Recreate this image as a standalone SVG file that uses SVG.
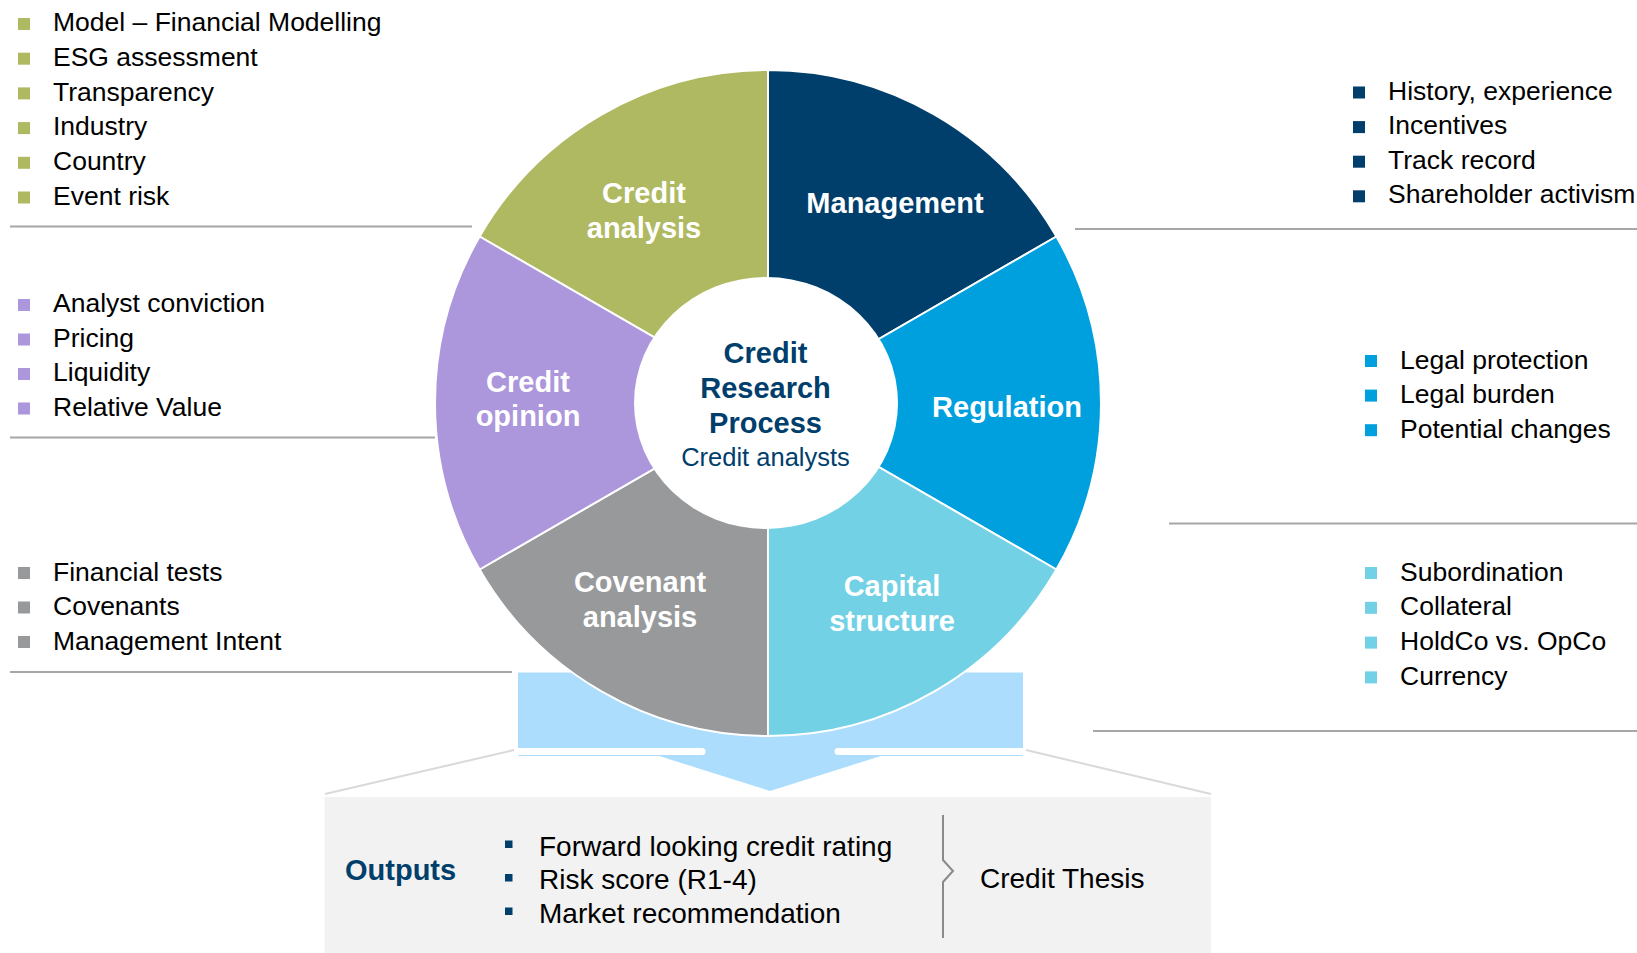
<svg xmlns="http://www.w3.org/2000/svg" width="1637" height="953" viewBox="0 0 1637 953">
<style>
text{font-family:"Liberation Sans",Arial,sans-serif}
.li{font-size:26.5px;fill:#000}
.seg{font-size:29px;font-weight:bold;fill:#fff;text-anchor:middle}
.ctr{font-size:29px;font-weight:bold;fill:#003E6B;text-anchor:middle}
.ctr2{font-size:25.5px;fill:#003E6B;text-anchor:middle}
.sep{stroke:#A6A6A6;stroke-width:2;fill:none}
.slant{stroke:#D9D9D9;stroke-width:2;fill:none}
.wedge{stroke:#fff;stroke-width:2}
.out{font-size:28px;fill:#000}
.olive{fill:#AFB962}.navy{fill:#003E6B}.blue{fill:#00A0DE}.cyan{fill:#73D1E6}.grey{fill:#98999B}.purple{fill:#AC96DC}
</style>
<rect width="1637" height="953" fill="#fff"/>

<!-- output arrow behind the wheel -->
<g id="output-arrow">
  <rect x="518" y="672.5" width="505" height="83.5" fill="#ADDDFC"/>
  <path d="M656,755 L884,755 L770,791 Z" fill="#ADDDFC"/>
  <path d="M514,751.5 H702 M838,751.5 H1027" stroke="#fff" stroke-width="7" stroke-linecap="round" fill="none"/>
</g>

<g id="connectors">
  <path class="sep" d="M10,226.5 H472"/>
  <path class="sep" d="M1075,229 H1637"/>
  <path class="sep" d="M10,437.5 H435"/>
  <path class="sep" d="M1169,523.5 H1637"/>
  <path class="sep" d="M10,672 H512"/>
  <path class="sep" d="M1093,731 H1637"/>
  <path class="slant" d="M514,750 L325,794"/>
  <path class="slant" d="M1026,750 L1211,794"/>
</g>

<!-- wheel -->
<g id="credit-analysis">
  <path class="wedge olive" d="M768,403 L479.62,236.5 A333,333 0 0 1 768,70 Z"/>
  <text class="seg" x="644" y="202.5">Credit</text>
  <text class="seg" x="644" y="237.5">analysis</text>
</g>
<g id="management">
  <path class="wedge navy" d="M768,403 L768,70 A333,333 0 0 1 1056.38,236.5 Z"/>
  <text class="seg" x="895" y="213">Management</text>
</g>
<g id="regulation">
  <path class="wedge blue" d="M768,403 L1056.38,236.5 A333,333 0 0 1 1056.38,569.5 Z"/>
  <text class="seg" x="1007" y="416.5">Regulation</text>
</g>
<g id="capital-structure">
  <path class="wedge cyan" d="M768,403 L1056.38,569.5 A333,333 0 0 1 768,736 Z"/>
  <text class="seg" x="892" y="596">Capital</text>
  <text class="seg" x="892" y="630.5">structure</text>
</g>
<g id="covenant-analysis">
  <path class="wedge grey" d="M768,403 L768,736 A333,333 0 0 1 479.62,569.5 Z"/>
  <text class="seg" x="640" y="591.5">Covenant</text>
  <text class="seg" x="640" y="626.5">analysis</text>
</g>
<g id="credit-opinion">
  <path class="wedge purple" d="M768,403 L479.62,569.5 A333,333 0 0 1 479.62,236.5 Z"/>
  <text class="seg" x="528" y="391.5">Credit</text>
  <text class="seg" x="528" y="426">opinion</text>
</g>
<g id="center">
  <ellipse cx="766" cy="403" rx="132" ry="126" fill="#fff"/>
  <text class="ctr" x="765.5" y="362.5">Credit</text>
  <text class="ctr" x="765.5" y="398">Research</text>
  <text class="ctr" x="765.5" y="433">Process</text>
  <text class="ctr2" x="765.5" y="466">Credit analysts</text>
</g>

<!-- side lists -->
<g id="list-credit-analysis">
  <rect class="olive" x="18" y="18" width="12" height="12"/>
  <rect class="olive" x="18" y="52.7" width="12" height="12"/>
  <rect class="olive" x="18" y="87.4" width="12" height="12"/>
  <rect class="olive" x="18" y="122.1" width="12" height="12"/>
  <rect class="olive" x="18" y="156.8" width="12" height="12"/>
  <rect class="olive" x="18" y="191.5" width="12" height="12"/>
  <text class="li" x="53" y="31">Model – Financial Modelling</text>
  <text class="li" x="53" y="65.7">ESG assessment</text>
  <text class="li" x="53" y="100.6">Transparency</text>
  <text class="li" x="53" y="135.3">Industry</text>
  <text class="li" x="53" y="170">Country</text>
  <text class="li" x="53" y="204.7">Event risk</text>
</g>
<g id="list-management">
  <rect class="navy" x="1353" y="86.5" width="12" height="12"/>
  <rect class="navy" x="1353" y="121.1" width="12" height="12"/>
  <rect class="navy" x="1353" y="155.7" width="12" height="12"/>
  <rect class="navy" x="1353" y="190.3" width="12" height="12"/>
  <text class="li" x="1388" y="99.5">History, experience</text>
  <text class="li" x="1388" y="134.1">Incentives</text>
  <text class="li" x="1388" y="168.7">Track record</text>
  <text class="li" x="1388" y="203.3">Shareholder activism</text>
</g>
<g id="list-credit-opinion">
  <rect class="purple" x="18" y="299" width="12" height="12"/>
  <rect class="purple" x="18" y="333.5" width="12" height="12"/>
  <rect class="purple" x="18" y="368" width="12" height="12"/>
  <rect class="purple" x="18" y="402.5" width="12" height="12"/>
  <text class="li" x="53" y="312">Analyst conviction</text>
  <text class="li" x="53" y="346.8">Pricing</text>
  <text class="li" x="53" y="381.4">Liquidity</text>
  <text class="li" x="53" y="416.2">Relative Value</text>
</g>
<g id="list-regulation">
  <rect class="blue" x="1365" y="355" width="12" height="12"/>
  <rect class="blue" x="1365" y="389.6" width="12" height="12"/>
  <rect class="blue" x="1365" y="424.2" width="12" height="12"/>
  <text class="li" x="1400" y="368.5">Legal protection</text>
  <text class="li" x="1400" y="403.1">Legal burden</text>
  <text class="li" x="1400" y="437.9">Potential changes</text>
</g>
<g id="list-covenant-analysis">
  <rect class="grey" x="18" y="567" width="12" height="12"/>
  <rect class="grey" x="18" y="601.5" width="12" height="12"/>
  <rect class="grey" x="18" y="636" width="12" height="12"/>
  <text class="li" x="53" y="580.5">Financial tests</text>
  <text class="li" x="53" y="615">Covenants</text>
  <text class="li" x="53" y="649.5">Management Intent</text>
</g>
<g id="list-capital-structure">
  <rect class="cyan" x="1365" y="567" width="12" height="12"/>
  <rect class="cyan" x="1365" y="601.8" width="12" height="12"/>
  <rect class="cyan" x="1365" y="636.6" width="12" height="12"/>
  <rect class="cyan" x="1365" y="671.4" width="12" height="12"/>
  <text class="li" x="1400" y="580.5">Subordination</text>
  <text class="li" x="1400" y="615.3">Collateral</text>
  <text class="li" x="1400" y="650.1">HoldCo vs. OpCo</text>
  <text class="li" x="1400" y="684.9">Currency</text>
</g>

<!-- outputs box -->
<g id="outputs">
  <rect x="324.5" y="797" width="886.5" height="156" fill="#F2F2F2"/>
  <text x="345" y="880" style="font-size:29px;font-weight:bold;fill:#003E6B">Outputs</text>
  <rect class="navy" x="505" y="840.5" width="7.5" height="7.5"/>
  <rect class="navy" x="505" y="874" width="7.5" height="7.5"/>
  <rect class="navy" x="505" y="907.5" width="7.5" height="7.5"/>
  <text class="out" x="539" y="855.5">Forward looking credit rating</text>
  <text class="out" x="539" y="889">Risk score (R1-4)</text>
  <text class="out" x="539" y="922.5">Market recommendation</text>
  <path d="M943,815 V860 L953,871 L943,882 V938" stroke="#8A8A8A" stroke-width="2" fill="none"/>
  <text class="out" x="980" y="887.5">Credit Thesis</text>
</g>
</svg>
